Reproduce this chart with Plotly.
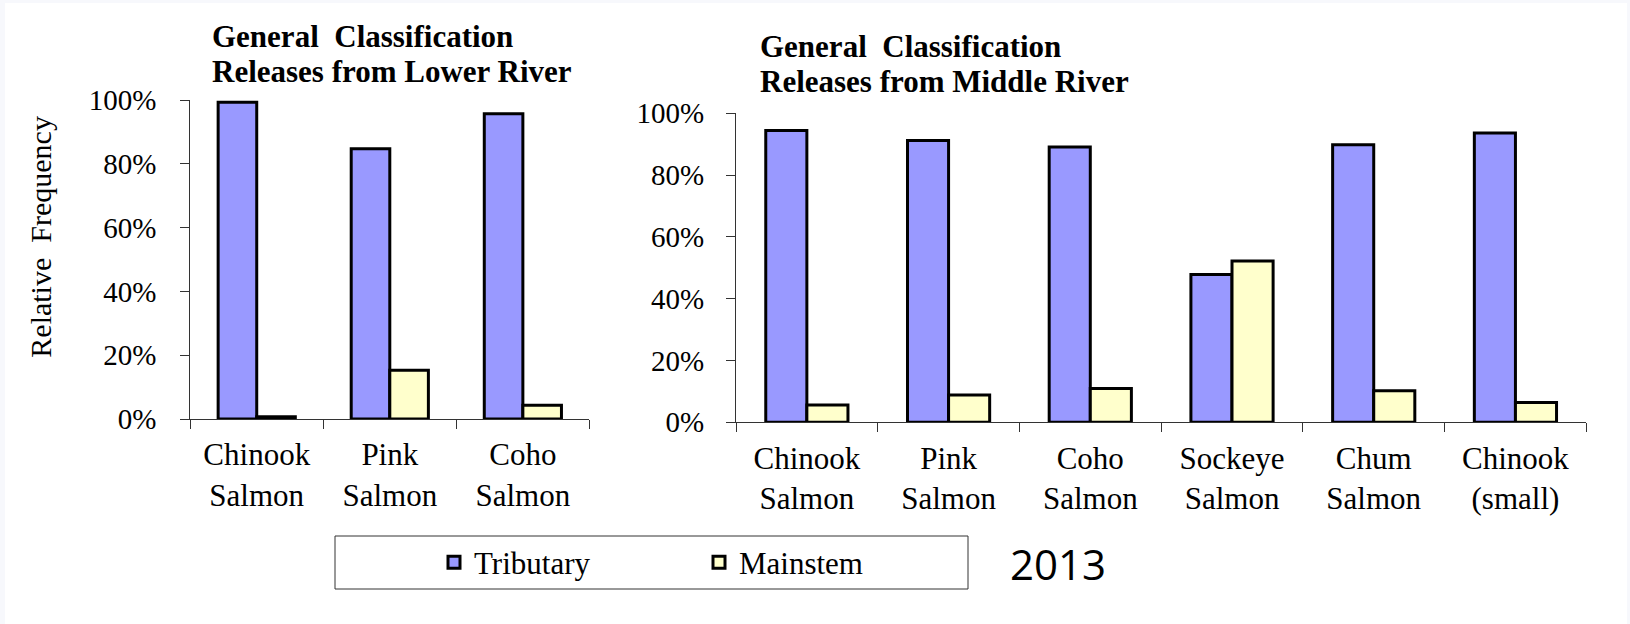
import plotly.graph_objects as go

# ---- data ----
lower_categories = ["Chinook<br>Salmon", "Pink<br>Salmon", "Coho<br>Salmon"]
lower_tributary = [0.993, 0.847, 0.957]
lower_mainstem = [0.007, 0.153, 0.043]

middle_categories = ["Chinook<br>Salmon", "Pink<br>Salmon", "Coho<br>Salmon",
                     "Sockeye<br>Salmon", "Chum<br>Salmon", "Chinook<br>(small)"]
middle_tributary = [0.944, 0.912, 0.891, 0.478, 0.898, 0.936]
middle_mainstem = [0.056, 0.088, 0.109, 0.522, 0.102, 0.064]

series_names = ["Tributary", "Mainstem"]
series_colors = ["#9999FF", "#FFFFCC"]

W, H = 1630, 624
SERIF = "Liberation Serif"


def px_x(p):
    return p / W


def px_y(p):
    return 1 - p / H


fig = go.Figure()

for i, (name, vals) in enumerate(zip(series_names, [lower_tributary, lower_mainstem])):
    fig.add_trace(go.Bar(
        x=lower_categories, y=vals, name=name, xaxis="x", yaxis="y",
        marker=dict(color=series_colors[i], line=dict(color="black", width=3)),
        legendgroup=name, showlegend=True,
    ))
for i, (name, vals) in enumerate(zip(series_names, [middle_tributary, middle_mainstem])):
    fig.add_trace(go.Bar(
        x=middle_categories, y=vals, name=name, xaxis="x2", yaxis="y2",
        marker=dict(color=series_colors[i], line=dict(color="black", width=3)),
        legendgroup=name, showlegend=False,
    ))

axis_common = dict(
    showgrid=False, zeroline=False, showline=True, linecolor="#333333", linewidth=1,
    ticks="outside", ticklen=9, tickcolor="#333333", tickwidth=1,
)

yaxis_common = dict(axis_common, range=[0, 1], dtick=0.2, tickformat=".0%",
                    tickfont=dict(family=SERIF, size=29, color="black"))
xaxis_common = dict(axis_common, tickson="boundaries", type="category",
                    tickfont=dict(family=SERIF, size=31, color="black"),
                    ticklabelstandoff=8)

fig.update_layout(
    width=W, height=H,
    margin=dict(l=0, r=0, t=0, b=0, autoexpand=False),
    paper_bgcolor="#f7f8fc",
    plot_bgcolor="rgba(0,0,0,0)",
    barmode="group", bargap=0.42, bargroupgap=0,
    xaxis=dict(xaxis_common, domain=[px_x(190.2), px_x(589.4)], anchor="y"),
    yaxis=dict(yaxis_common, domain=[px_y(419), px_y(100)], anchor="x",
               ticklabelstandoff=18),
    xaxis2=dict(xaxis_common, domain=[px_x(736), px_x(1586.3)], anchor="y2"),
    yaxis2=dict(yaxis_common, domain=[px_y(422.3), px_y(113.3)], anchor="x2",
                ticklabelstandoff=16),
    legend=dict(
        orientation="h", x=px_x(434), y=px_y(562.5), xanchor="left", yanchor="middle",
        font=dict(family=SERIF, size=31, color="black"),
        bgcolor="rgba(0,0,0,0)", borderwidth=0,
        entrywidth=220, entrywidthmode="pixels",
        traceorder="normal",
    ),
    showlegend=True,
    shapes=[
        dict(type="rect", xref="paper", yref="paper", layer="below",
             x0=px_x(5), x1=px_x(1627), y0=0, y1=px_y(3),
             fillcolor="white", line=dict(width=0)),
        dict(type="rect", xref="paper", yref="paper",
             x0=px_x(335), x1=px_x(968), y0=px_y(589), y1=px_y(536),
             fillcolor="rgba(0,0,0,0)", line=dict(color="#333333", width=1)),
    ],
)

annotations = [
    dict(text="General\u00a0 Classification", x=px_x(209.7), y=px_y(49.3)),
    dict(text="Releases from Lower River", x=px_x(209.7), y=px_y(84)),
    dict(text="General\u00a0 Classification", x=px_x(758), y=px_y(59)),
    dict(text="Releases from Middle River", x=px_x(758), y=px_y(94)),
]
for a in annotations:
    fig.add_annotation(
        xref="paper", yref="paper", xanchor="left", yanchor="bottom",
        showarrow=False, text="<b>" + a["text"] + "</b>", x=a["x"], y=a["y"] - 7 / H,
        font=dict(family=SERIF, size=31, color="black"),
    )

fig.add_annotation(
    xref="paper", yref="paper", x=px_x(41), y=px_y(236.7), textangle=-90,
    text="Relative\u00a0 Frequency", showarrow=False,
    font=dict(family=SERIF, size=30, color="black"),
    xanchor="center", yanchor="middle",
)

fig.add_annotation(
    xref="paper", yref="paper", x=px_x(1008), y=px_y(563), xanchor="left", yanchor="middle",
    text="2013", showarrow=False,
    font=dict(family="Open Sans, sans-serif", size=42, color="black"),
)

fig.write_html(
    "out.html",
    config={"displayModeBar": False},
    post_script="document.body.style.margin='0';document.body.style.padding='0';",
)
